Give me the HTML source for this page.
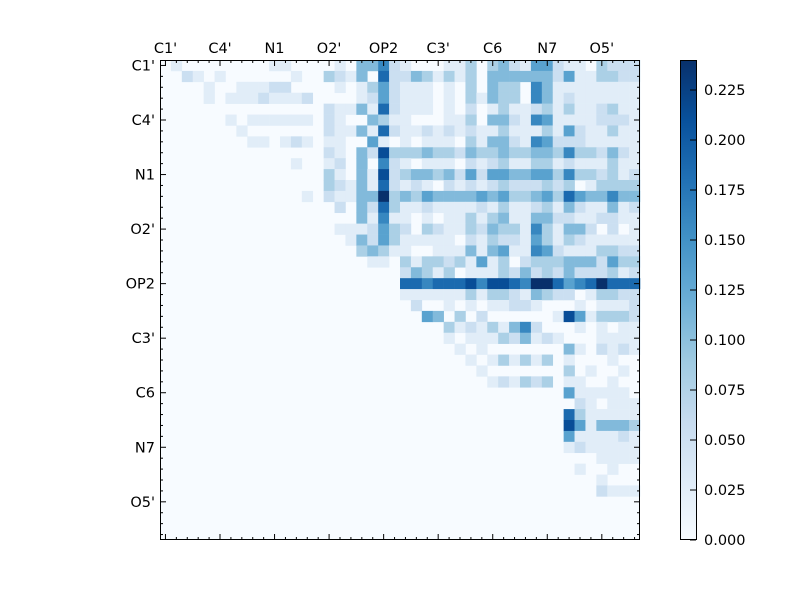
<!DOCTYPE html>
<html><head><meta charset="utf-8"><style>
body{margin:0;background:#fff;}
svg text{font-family:"DejaVu Sans","Liberation Sans",sans-serif;font-size:14.5px;fill:#000;}
</style></head><body>
<svg id="s" width="800" height="600" xmlns="http://www.w3.org/2000/svg">
<defs><linearGradient id="cb" x1="0" y1="1" x2="0" y2="0">
<stop offset="0" stop-color="#f7fbff"/><stop offset="0.125" stop-color="#deebf7"/><stop offset="0.25" stop-color="#c6dbef"/><stop offset="0.375" stop-color="#9ecae1"/><stop offset="0.5" stop-color="#6baed6"/><stop offset="0.625" stop-color="#4292c6"/><stop offset="0.75" stop-color="#2171b5"/><stop offset="0.875" stop-color="#08519c"/><stop offset="1" stop-color="#08306b"/>
</linearGradient></defs>
<rect x="160" y="60" width="480" height="480" fill="#f7fbff"/>
<g id="cells"></g>
<g id="ticks" stroke="#000" stroke-width="1"></g>
<rect x="160.5" y="60.5" width="479" height="479" fill="none" stroke="#000"/>
<rect x="680" y="60" width="16" height="480" fill="url(#cb)"/>
<rect x="680.5" y="60.5" width="16" height="479" fill="none" stroke="#000"/>
<g stroke="#000">
<line x1="690" y1="540" x2="696" y2="540"/><line x1="690" y1="490" x2="696" y2="490"/><line x1="690" y1="440" x2="696" y2="440"/><line x1="690" y1="390" x2="696" y2="390"/><line x1="690" y1="340" x2="696" y2="340"/><line x1="690" y1="290" x2="696" y2="290"/><line x1="690" y1="240" x2="696" y2="240"/><line x1="690" y1="190" x2="696" y2="190"/><line x1="690" y1="140" x2="696" y2="140"/><line x1="690" y1="90" x2="696" y2="90"/>
</g>
<g>
<text x="704" y="545">0.000</text><text x="704" y="495">0.025</text><text x="704" y="445">0.050</text><text x="704" y="395">0.075</text><text x="704" y="345">0.100</text><text x="704" y="295">0.125</text><text x="704" y="245">0.150</text><text x="704" y="195">0.175</text><text x="704" y="145">0.200</text><text x="704" y="95">0.225</text>
</g>
<g id="labels"></g>
</svg>
<script>
var left={
0:"0 1 0 0 0 0 0 0 0 0 1 1 0 0 0 0 1 0 4 4 6 2",
1:"0 0 2 1 0 1 0 0 0 0 0 0 1 0 0 3 2 1 4 0 7 2",
2:"0 0 0 0 1 0 0 1 1 1 2 2 0 0 0 0 1 0 1 3 5 2",
3:"0 0 0 0 1 0 1 1 1 2 1 1 1 2 0 0 0 0 1 2 5 2",
4:"0 0 0 0 0 0 0 0 0 0 0 0 0 0 0 2 1 1 4 1 7 2",
5:"0 0 0 0 0 0 1 0 1 1 1 1 1 1 0 2 1 0 0 4 3 1",
6:"0 0 0 0 0 0 0 1 0 0 0 0 0 0 0 2 1 1 4 1 7 2",
7:"0 0 0 0 0 0 0 0 1 1 0 1 2 1 0 1 1 0 0 5 1 0",
8:"0 0 0 0 0 0 0 0 0 0 0 0 0 0 0 2 1 0 4 2 8 3",
9:"0 0 0 0 0 0 0 0 0 0 0 0 1 0 0 1 2 0 4 0 6 2",
10:"0 0 0 0 0 0 0 0 0 0 0 0 0 0 0 3 1 0 4 1 8 2",
11:"0 0 0 0 0 0 0 0 0 0 0 0 0 0 0 3 2 1 4 1 7 2",
12:"0 0 0 0 0 0 0 0 0 0 0 0 0 1 0 2 1 1 4 4 9 3",
13:"0 0 0 0 0 0 0 0 0 0 0 0 0 0 0 0 2 0 4 2 7 3",
14:"0 0 0 0 0 0 0 0 0 0 0 0 0 0 0 0 0 0 4 1 6 1",
15:"0 0 0 0 0 0 0 0 0 0 0 0 0 0 0 0 1 1 1 2 5 3",
16:"0 0 0 0 0 0 0 0 0 0 0 0 0 0 0 0 0 1 4 2 5 3",
17:"0 0 0 0 0 0 0 0 0 0 0 0 0 0 0 0 0 0 3 4 3 1",
18:"0 0 0 0 0 0 0 0 0 0 0 0 0 0 0 0 0 0 0 1 1 0"};
var right={
0:"1 0 0 0 1 1 3 0 3 4 2 1 5 5 2 1 1 0 3 2 2 2",
1:"2 4 3 1 3 1 3 0 4 4 4 4 4 4 2 5 1 1 3 3 2 2",
2:"1 1 1 0 1 0 3 0 4 3 3 0 6 4 1 1 1 1 1 1 1 1",
3:"1 1 1 0 1 0 3 1 4 3 3 0 6 4 1 2 1 1 1 1 1 1",
4:"1 1 1 0 1 0 2 0 1 3 1 1 2 3 1 3 1 1 2 3 1 1",
5:"1 0 0 0 1 1 3 0 4 4 2 1 6 5 1 1 1 1 2 2 2 1",
6:"1 1 2 1 2 1 2 1 1 3 1 1 1 3 1 5 2 1 1 3 1 1",
7:"1 0 1 1 1 0 3 1 4 4 2 1 6 5 2 2 2 1 1 1 1 1",
8:"3 3 4 3 3 2 4 3 3 4 3 3 4 4 3 6 3 3 2 4 2 1",
9:"1 0 1 1 1 0 2 1 2 3 1 1 3 3 1 2 1 1 1 3 1 1",
10:"3 4 4 3 4 2 5 2 5 5 4 4 5 5 3 6 3 3 2 3 1 2",
11:"1 2 1 0 2 1 2 1 2 3 2 2 2 3 2 3 0 1 3 3 3 3",
12:"4 3 5 4 4 4 4 5 4 5 3 3 4 5 3 7 5 4 4 6 4 4",
13:"1 1 2 1 1 1 1 2 1 3 1 1 2 3 1 4 2 1 1 4 1 2",
14:"1 0 1 0 1 1 3 1 3 4 1 1 4 4 2 2 1 1 2 2 1 1",
15:"2 0 3 2 1 1 3 2 4 3 3 1 6 3 1 4 4 2 0 2 0 1",
16:"1 1 1 1 1 0 2 1 3 2 2 1 5 3 1 3 2 1 1 1 1 1",
17:"1 0 0 1 1 1 4 1 4 5 1 1 6 5 2 1 1 1 3 3 2 2",
18:"3 1 3 3 2 3 1 5 1 3 0 2 3 3 3 4 4 4 2 5 3 3",
19:"2 4 3 1 3 0 1 1 1 3 2 4 2 3 2 4 2 2 2 3 1 2",
20:"7 7 6 7 7 7 8 6 8 8 7 6 9 9 7 5 6 7 9 7 7 7",
21:"1 1 1 1 1 1 3 1 3 3 2 1 4 3 2 2 0 1 3 3 2 2",
22:"0 2 0 0 1 0 1 0 1 1 2 2 1 0 0 0 1 0 1 1 1 2",
23:"0 0 5 4 0 3 0 2 0 0 0 0 0 0 1 8 5 1 3 3 3 2",
24:"0 0 0 0 3 1 2 1 3 1 4 6 2 0 0 0 1 0 1 0 1 1",
25:"0 0 0 0 1 0 1 1 1 3 2 4 1 2 1 0 0 0 1 1 1 1",
26:"0 0 0 0 0 1 0 1 0 0 0 0 0 0 0 4 1 0 2 1 2 1",
27:"0 0 0 0 0 0 1 0 1 3 1 3 1 3 0 1 0 0 0 1 0 0",
28:"0 0 0 0 0 0 0 1 0 0 0 0 0 0 0 3 0 1 0 0 1 0",
29:"0 0 0 0 0 0 0 0 1 2 1 3 2 3 0 1 1 0 0 1 0 0",
30:"0 0 0 0 0 0 0 0 0 0 0 0 0 0 0 5 1 1 1 1 1 0",
31:"0 0 0 0 0 0 0 0 0 0 0 0 0 0 0 0 2 1 0 1 1 1",
32:"0 0 0 0 0 0 0 0 0 0 0 0 0 0 0 7 3 1 1 1 1 1",
33:"0 0 0 0 0 0 0 0 0 0 0 0 0 0 0 8 5 1 4 4 4 3",
34:"0 0 0 0 0 0 0 0 0 0 0 0 0 0 0 5 1 1 1 1 2 1",
35:"0 0 0 0 0 0 0 0 0 0 0 0 0 0 0 1 2 1 1 1 1 1",
36:"0 0 0 0 0 0 0 0 0 0 0 0 0 0 0 0 0 0 1 1 1 1",
37:"0 0 0 0 0 0 0 0 0 0 0 0 0 0 0 0 1 0 0 1 0 0",
38:"0 0 0 0 0 0 0 0 0 0 0 0 0 0 0 0 0 0 1 0 0 0",
39:"0 0 0 0 0 0 0 0 0 0 0 0 0 0 0 0 0 0 2 1 1 1"};
var stops=[[247,251,255],[222,235,247],[198,219,239],[158,202,225],[107,174,214],[66,146,198],[33,113,181],[8,81,156],[8,48,107]];
function col(f){f=Math.max(0,Math.min(1,f))*8;var i=Math.min(7,Math.floor(f)),t=f-i,a=stops[i],b=stops[i+1];
return "rgb("+[0,1,2].map(function(k){return Math.round(a[k]+(b[k]-a[k])*t)}).join(",")+")";}
function arr(s){if(!s)return [];return s.trim().split(/\s+/).map(Number);}
var cs=480/44,h="";
for(var r=0;r<44;r++){
 var L=arr(left[r]),R=arr(right[r]);
 for(var c=0;c<44;c++){var d=c<22?(L[c]||0):(R[c-22]||0);if(c<=r)d=0;if(d>0){
  h+='<rect x="'+(160+c*cs).toFixed(2)+'" y="'+(60+r*cs).toFixed(2)+'" width="'+(cs+0.3).toFixed(2)+'" height="'+(cs+0.3).toFixed(2)+'" fill="'+col(d/9)+'"/>';}}
}
document.getElementById("cells").innerHTML=h;
var t="";
for(var i=0;i<44;i++){var p=(160+(i+0.5)*cs).toFixed(2),q=(60+(i+0.5)*cs).toFixed(2),Lt=(i%5==0)?6:3;
 t+='<line x1="'+p+'" y1="60" x2="'+p+'" y2="'+(60+Lt)+'"/><line x1="'+p+'" y1="540" x2="'+p+'" y2="'+(540-Lt)+'"/>';
 t+='<line x1="160" y1="'+q+'" x2="'+(160+Lt)+'" y2="'+q+'"/><line x1="640" y1="'+q+'" x2="'+(640-Lt)+'" y2="'+q+'"/>';}
document.getElementById("ticks").innerHTML=t;
var names=["C1'","C4'","N1","O2'","OP2","C3'","C6","N7","O5'"],l="";
for(var k=0;k<9;k++){var p=160+(k*5+0.5)*cs,q=60+(k*5+0.5)*cs;
 l+='<text x="'+p.toFixed(1)+'" y="53" text-anchor="middle">'+names[k]+'</text>';
 l+='<text x="155" y="'+(q+5).toFixed(1)+'" text-anchor="end">'+names[k]+'</text>';}
document.getElementById("labels").innerHTML=l;
</script>
</body></html>
